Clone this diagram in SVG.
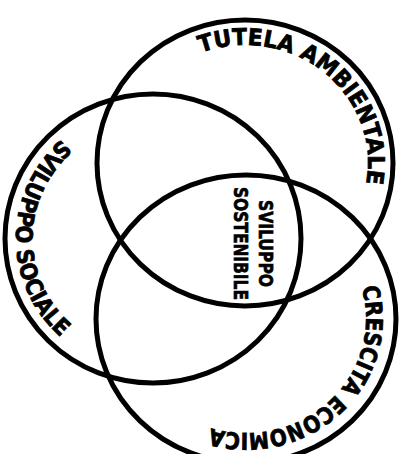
<svg xmlns="http://www.w3.org/2000/svg" width="403" height="454" viewBox="0 0 403 454">
<style>
.ring{fill:none;stroke:#000;stroke-width:5}
.lbl{font-family:"DejaVu Sans","Liberation Sans",sans-serif;font-weight:bold;font-size:23px;fill:#000;stroke:#000;stroke-width:0.8}
.ctr{font-family:"DejaVu Sans","Liberation Sans",sans-serif;font-weight:bold;font-size:19px;fill:#000;stroke:#000;stroke-width:0.7}
</style>
<defs>
<path id="pTop" d="M200.9 52.8 A123 118 0 0 1 359 207.2"/>
<path id="pLeft" d="M61.3 139.3 A137 133.5 0 0 0 78.4 350.5"/>
<path id="pBot" d="M361.4 287.6 A120 114 0 0 1 191.5 420.6"/>
</defs>
<rect width="403" height="454" fill="#fff"/>
<g id="connectors"></g>
<g id="tutela">
<ellipse class="ring" cx="245" cy="163" rx="148" ry="143"/>
<text class="lbl"><textPath href="#pTop" textLength="255" lengthAdjust="spacingAndGlyphs">TUTELA AMBIENTALE</textPath></text>
</g>
<g id="sociale">
<ellipse class="ring" cx="153" cy="238.5" rx="148" ry="144.5"/>
<text class="lbl"><textPath href="#pLeft" textLength="224" lengthAdjust="spacingAndGlyphs">SVILUPPO SOCIALE</textPath></text>
</g>
<g id="economica">
<ellipse class="ring" cx="246" cy="319" rx="150" ry="144"/>
<text class="lbl"><textPath href="#pBot" textLength="251" lengthAdjust="spacingAndGlyphs">CRESCITA ECONOMICA</textPath></text>
</g>
<g id="sostenibile">
<text class="ctr" transform="translate(259 243.5) rotate(90)" text-anchor="middle" textLength="87" lengthAdjust="spacingAndGlyphs">SVILUPPO</text>
<text class="ctr" transform="translate(234 243.5) rotate(90)" text-anchor="middle" textLength="113" lengthAdjust="spacingAndGlyphs">SOSTENIBILE</text>
</g>
</svg>
